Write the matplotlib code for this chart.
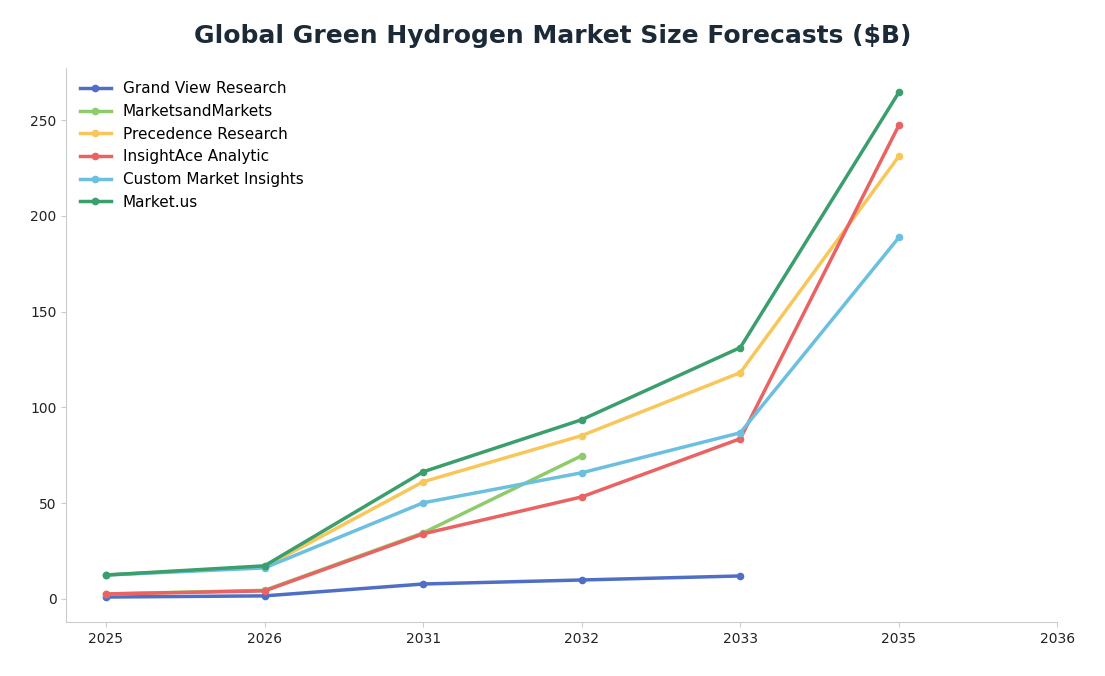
import numpy as np
import matplotlib.pyplot as plt

# ---------------------------------------------------
# DATA
# ---------------------------------------------------
years = ["2025", "2026", "2031", "2032", "2033", "2035", "2036"]

grand_view = [1.0, 1.6, 7.8, 9.9, 12.0]
markets_and_markets = [2.6, 4.5, 34.5, 74.8]
precedence = [12.5, 16.7, 61.2, 85.3, 118.2, 231.2]
insightace = [2.6, 4.2, 34.0, 53.3, 83.7, 247.4]
custom_insights = [12.5, 16.2, 50.2, 65.9, 86.8, 188.8]
market_us = [12.5, 17.3, 66.4, 93.6, 131.3, 264.6]

series = [
    ("Grand View Research", grand_view, "#4f6fc6"),
    ("MarketsandMarkets", markets_and_markets, "#8fcb6b"),
    ("Precedence Research", precedence, "#f8c75a"),
    ("InsightAce Analytic", insightace, "#ea6262"),
    ("Custom Market Insights", custom_insights, "#6bbfdf"),
    ("Market.us", market_us, "#3a9e6d"),
]

# ---------------------------------------------------
# FIGURE
# ---------------------------------------------------
fig = plt.figure(figsize=(11.05, 6.76), dpi=100)
ax = fig.add_axes([0.06, 0.08, 0.897, 0.82])

for name, vals, c in series:
    x = np.arange(len(vals))
    ax.plot(x, vals, color=c, linewidth=2.5, marker="o", markersize=4.5, label=name)

ax.set_xticks(np.arange(len(years)))
ax.set_xticklabels(years)
ax.set_xlim(-0.25, 6)
ax.set_ylim(-12, 277.5)
ax.set_yticks([0, 50, 100, 150, 200, 250])

for side in ["top", "right"]:
    ax.spines[side].set_visible(False)
for side in ["left", "bottom"]:
    ax.spines[side].set_color("#cccccc")
ax.tick_params(colors="#222222", labelsize=10)
ax.tick_params(axis="both", color="#cccccc")

ax.legend(loc="upper left", frameon=False, fontsize=11, bbox_to_anchor=(0.0, 1.0))

fig.suptitle("Global Green Hydrogen Market Size Forecasts ($B)",
             fontsize=18, fontweight="bold", color="#1b2a36", y=0.965)

fig.savefig("out.png", dpi=100)
